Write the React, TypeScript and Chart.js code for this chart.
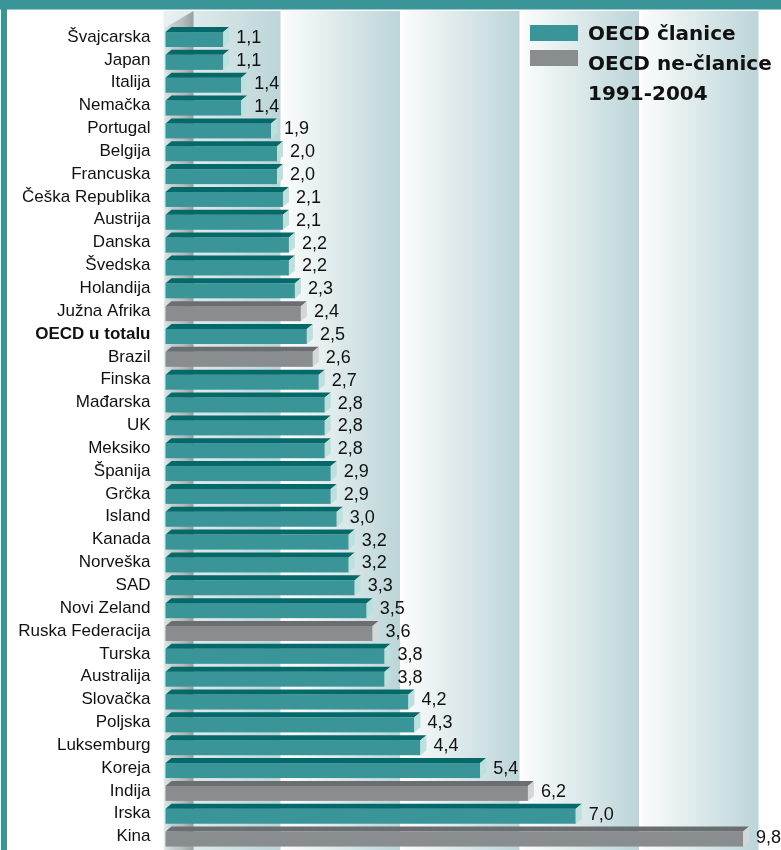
import React, { useEffect, useRef } from "react";
import { Chart, registerables } from "chart.js";

Chart.register(...registerables);

const categories = [
  "Švajcarska", "Japan", "Italija", "Nemačka", "Portugal", "Belgija", "Francuska",
  "Češka Republika", "Austrija", "Danska", "Švedska", "Holandija", "Južna Afrika",
  "OECD u totalu", "Brazil", "Finska", "Mađarska", "UK", "Meksiko", "Španija", "Grčka",
  "Island", "Kanada", "Norveška", "SAD", "Novi Zeland", "Ruska Federacija", "Turska",
  "Australija", "Slovačka", "Poljska", "Luksemburg", "Koreja", "Indija", "Irska", "Kina",
];
const values = [
  1.1, 1.1, 1.4, 1.4, 1.9, 2.0, 2.0, 2.1, 2.1, 2.2, 2.2, 2.3, 2.4, 2.5, 2.6, 2.7, 2.8,
  2.8, 2.8, 2.9, 2.9, 3.0, 3.2, 3.2, 3.3, 3.5, 3.6, 3.8, 3.8, 4.2, 4.3, 4.4, 5.4, 6.2,
  7.0, 9.8,
];
// m = OECD member, n = non-member
const groups = [
  "m", "m", "m", "m", "m", "m", "m", "m", "m", "m", "m", "m", "n", "m", "n", "m", "m",
  "m", "m", "m", "m", "m", "m", "m", "m", "m", "n", "m", "m", "m", "m", "m", "m", "n",
  "m", "n",
];
const boldCategories = ["OECD u totalu"];
const legendLabels = ["OECD članice", "OECD ne-članice", "1991-2004"];
const xBands = [0, 2, 4, 6, 8, 10];

const TEAL = "#3a9599";
const COLORS: Record<string, { front: string; top: string; side: string }> = {
  m: { front: "#3a9599", top: "#05696a", side: "#b9e1df" },
  n: { front: "#8a8d90", top: "#6b6e71", side: "#d4d6d7" },
};
const FONT = "'Liberation Sans', Arial, sans-serif";
const LEGEND_FONT = "'DejaVu Sans', sans-serif";

const decorPlugin = {
  id: "decor",
  beforeDraw(chart: any) {
    const { ctx, chartArea, scales } = chart;
    const x = scales.x;
    ctx.save();
    ctx.fillStyle = "#ffffff";
    ctx.fillRect(0, 0, chart.width, chart.height);
    // frame
    ctx.fillStyle = TEAL;
    ctx.fillRect(0, 0, chart.width, 9.5);
    ctx.fillRect(1, 0, 6, chart.height);
    // back wall bands
    const top = 11;
    const bottom = chart.height;
    for (let i = 0; i < xBands.length - 1; i++) {
      const a = x.getPixelForValue(xBands[i]);
      const b = x.getPixelForValue(xBands[i + 1]) - 2.5;
      const g = ctx.createLinearGradient(a, 0, b, 0);
      g.addColorStop(0, i === 0 ? "#eaf1f1" : "#fbfcfc");
      g.addColorStop(1, "#bcd5d8");
      ctx.fillStyle = g;
      ctx.fillRect(a, top, b - a, bottom - top);
    }
    // left wall
    const l = chartArea.left;
    const r = l + 30;
    const wg = ctx.createLinearGradient(l, 0, r, 0);
    wg.addColorStop(0, "rgba(225,232,232,0.9)");
    wg.addColorStop(0.6, "rgba(150,155,157,0.55)");
    wg.addColorStop(1, "rgba(120,125,127,0.7)");
    ctx.fillStyle = wg;
    ctx.beginPath();
    ctx.moveTo(l + 1, 28);
    ctx.lineTo(r, 11);
    ctx.lineTo(r, chart.height);
    ctx.lineTo(l + 1, chart.height);
    ctx.closePath();
    ctx.fill();
    ctx.restore();
  },
  afterDatasetsDraw(chart: any) {
    const { ctx } = chart;
    const meta = chart.getDatasetMeta(0);
    const dx = 6;
    const dy = 5;
    ctx.save();
    meta.data.forEach((el: any, i: number) => {
      const c = COLORS[groups[i]];
      const h = el.height;
      const yTop = el.y - h / 2;
      const yBot = el.y + h / 2;
      const x0 = el.base + 2;
      const xf = el.x - dx;
      // front
      ctx.fillStyle = c.front;
      ctx.fillRect(x0, yTop + dy, xf - x0, h - dy);
      // top
      ctx.fillStyle = c.top;
      ctx.beginPath();
      ctx.moveTo(x0, yTop + dy);
      ctx.lineTo(x0 + dx, yTop);
      ctx.lineTo(xf + dx, yTop);
      ctx.lineTo(xf, yTop + dy);
      ctx.closePath();
      ctx.fill();
      // side
      ctx.fillStyle = c.side;
      ctx.beginPath();
      ctx.moveTo(xf, yTop + dy);
      ctx.lineTo(xf + dx, yTop);
      ctx.lineTo(xf + dx, yBot - dy);
      ctx.lineTo(xf, yBot);
      ctx.closePath();
      ctx.fill();
      // value label
      ctx.fillStyle = "#111";
      ctx.font = `18px ${FONT}`;
      ctx.textAlign = "left";
      ctx.textBaseline = "middle";
      ctx.fillText(values[i].toFixed(1).replace(".", ","), el.x + 7, el.y + 1);
    });
    ctx.restore();
  },
  afterDraw(chart: any) {
    const { ctx } = chart;
    ctx.save();
    ctx.fillStyle = COLORS.m.front;
    ctx.fillRect(530, 25, 48, 16);
    ctx.fillStyle = "#8a8d90";
    ctx.fillRect(530, 50, 48, 16);
    ctx.fillStyle = "#111";
    ctx.font = `bold 20px ${LEGEND_FONT}`;
    ctx.textAlign = "left";
    ctx.textBaseline = "alphabetic";
    legendLabels.forEach((t, i) => ctx.fillText(t, 588, 40 + i * 30));
    ctx.restore();
  },
};

export default function App() {
  const ref = useRef<HTMLCanvasElement | null>(null);
  useEffect(() => {
    if (!ref.current) return;
    const chart = new Chart(ref.current, {
      type: "bar",
      data: {
        labels: categories,
        datasets: [
          {
            data: values,
            backgroundColor: "rgba(0,0,0,0)",
            borderWidth: 0,
            barThickness: 20,
          },
        ],
      },
      options: {
        indexAxis: "y",
        animation: false,
        responsive: false,
        maintainAspectRatio: false,
        layout: { padding: { top: 25.6, bottom: 2, left: 0, right: 20 } },
        plugins: { legend: { display: false }, tooltip: { enabled: false } },
        scales: {
          x: { display: false, min: 0, max: 10 },
          y: {
            grid: { display: false, drawTicks: false },
            border: { display: false },
            afterFit: (s: any) => {
              s.width = 163.5;
              s.paddingTop = 0;
              s.paddingBottom = 0;
            },
            ticks: {
              padding: 13,
              color: "#111",
              autoSkip: false,
              font: (c: any) => ({
                family: FONT,
                size: 17,
                weight: boldCategories.includes(categories[c.index]) ? "bold" : "normal",
              }),
            },
          },
        },
      },
      plugins: [decorPlugin],
    });
    return () => chart.destroy();
  }, []);
  return (
    <div style={{ position: "absolute", left: 0, top: 0, width: 781, height: 850 }}>
      <canvas ref={ref} width={781} height={850} style={{ display: "block" }} />
    </div>
  );
}
